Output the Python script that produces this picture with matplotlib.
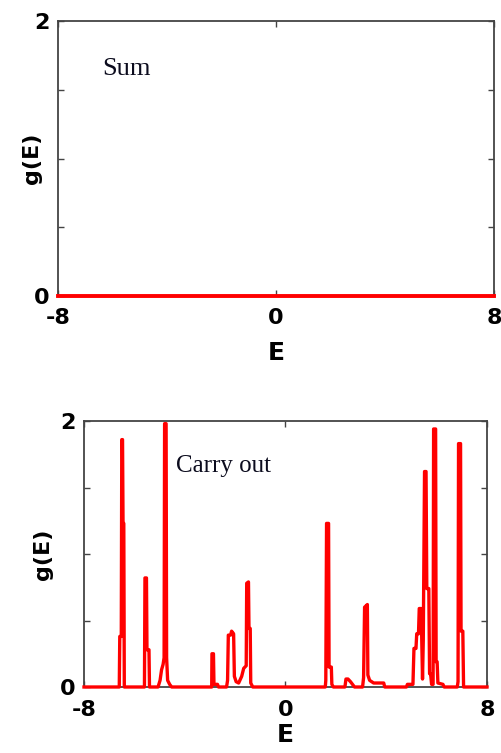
"""Density of states g(E) for the sum and carry-out outputs."""

from __future__ import annotations

import matplotlib
import numpy as np

matplotlib.use("Agg")
from matplotlib import pyplot as plt  # noqa: E402

# Sum output: flat at zero over the whole range.
SUM_ENERGY = [-8.0, 8.0]
SUM_DOS = [0.0, 0.0]

# Carry-out output: sharp peaks.
CARRY_ENERGY = [
    -8.00, -6.60, -6.58, -6.52, -6.50, -6.47, -6.45, -6.42, -6.40,
    -5.60, -5.58, -5.52, -5.50, -5.42, -5.40,
    -5.06, -4.98, -4.92, -4.86, -4.82, -4.80, -4.74, -4.72, -4.68, -4.60, -4.52,
    -2.93, -2.92, -2.86, -2.84, -2.70, -2.66,
    -2.34, -2.30, -2.27, -2.18, -2.14, -2.06, -2.03, -1.96, -1.86, -1.74, -1.66,
    -1.56, -1.54, -1.47, -1.45, -1.40, -1.38, -1.30,
    1.58, 1.60, 1.63, 1.71, 1.73, 1.82, 1.84, 1.90,
    2.36, 2.40, 2.48, 2.58, 2.66, 2.74,
    3.06, 3.10, 3.14, 3.25, 3.27, 3.34, 3.50, 3.90, 3.94,
    4.80, 4.84, 5.06, 5.10, 5.18, 5.21, 5.28, 5.31, 5.39, 5.41, 5.44, 5.47,
    5.52, 5.58, 5.61, 5.69, 5.72, 5.76, 5.80, 5.86,
    5.88, 5.96, 5.98, 6.02, 6.05, 6.25, 6.30,
    6.82, 6.85, 6.87, 6.95, 6.97, 7.04, 7.07, 8.00,
]
CARRY_DOS = [
    0.00, 0.00, 0.38, 0.38, 1.86, 1.86, 1.23, 1.23, 0.00,
    0.00, 0.82, 0.82, 0.28, 0.28, 0.00,
    0.00, 0.05, 0.13, 0.17, 0.22, 1.98, 1.98, 0.22, 0.05, 0.02, 0.00,
    0.00, 0.25, 0.25, 0.02, 0.02, 0.00,
    0.00, 0.05, 0.39, 0.39, 0.42, 0.40, 0.08, 0.04, 0.03, 0.08, 0.14,
    0.16, 0.78, 0.79, 0.44, 0.44, 0.03, 0.00,
    0.00, 0.05, 1.23, 1.23, 0.15, 0.15, 0.02, 0.00,
    0.00, 0.06, 0.06, 0.04, 0.02, 0.00,
    0.00, 0.07, 0.60, 0.62, 0.09, 0.05, 0.03, 0.03, 0.00,
    0.00, 0.02, 0.02, 0.29, 0.29, 0.40, 0.40, 0.59, 0.59, 0.35, 0.06, 0.35,
    1.62, 1.62, 0.74, 0.74, 0.10, 0.10, 0.02, 0.02,
    1.94, 1.94, 0.19, 0.19, 0.03, 0.02, 0.00,
    0.00, 0.04, 1.83, 1.83, 0.42, 0.42, 0.00, 0.00,
]

X_TICKS = [-8, 0, 8]
Y_TICKS = [0, 0.5, 1, 1.5, 2]
Y_TICK_LABELS = ["0", "", "", "", "2"]

SANS = ["DejaVu Sans"]
SERIF = ["Liberation Serif", "DejaVu Serif"]
SPINE = "#444444"


def _style_axes(ax, xlabel_y: float, ylabel_x: float) -> None:
    ax.set_xlim(-8, 8)
    ax.set_ylim(0, 2)
    ax.set_xticks(X_TICKS)
    ax.set_xticklabels([str(t) for t in X_TICKS], family=SANS, fontweight="bold", fontsize=16)
    ax.set_yticks(Y_TICKS)
    ax.set_yticklabels(Y_TICK_LABELS, family=SANS, fontweight="bold", fontsize=16)
    ax.tick_params(direction="in", length=4, width=1.0, color=SPINE, top=True, right=True)
    ax.tick_params(axis="x", pad=9)
    ax.tick_params(axis="y", pad=6)
    for spine in ax.spines.values():
        spine.set_color(SPINE)
        spine.set_linewidth(1.3)
    ax.set_xlabel("E", family=SANS, fontweight="bold", fontsize=18)
    ax.set_ylabel("g(E)", family=SANS, fontweight="bold", fontsize=16)
    ax.xaxis.set_label_coords(0.5, xlabel_y)
    ax.yaxis.set_label_coords(ylabel_x, 0.5)


fig = plt.figure(figsize=(5.02, 7.53), dpi=100)

ax_sum = fig.add_axes([58 / 502, 1 - 296 / 753, 436 / 502, 275 / 753])
ax_sum.plot(np.array(SUM_ENERGY), np.array(SUM_DOS), color="red", linewidth=2.8,
            clip_on=False, zorder=5)
_style_axes(ax_sum, -0.165, -0.037)
ax_sum.text(0.101, 0.804, "Sum", transform=ax_sum.transAxes, family=SERIF,
            fontsize=19, color="#0c0c1e", ha="left", va="baseline")

ax_carry = fig.add_axes([84 / 502, 1 - 687 / 753, 403 / 502, 266 / 753])
ax_carry.plot(np.array(CARRY_ENERGY), np.array(CARRY_DOS), color="red", linewidth=2.4,
              clip_on=False, zorder=5)
_style_axes(ax_carry, -0.136, -0.077)
ax_carry.text(0.228, 0.809, "Carry out", transform=ax_carry.transAxes, family=SERIF,
              fontsize=18, color="#0c0c1e", ha="left", va="baseline")

fig.savefig("out.png", dpi=100)
plt.close(fig)
